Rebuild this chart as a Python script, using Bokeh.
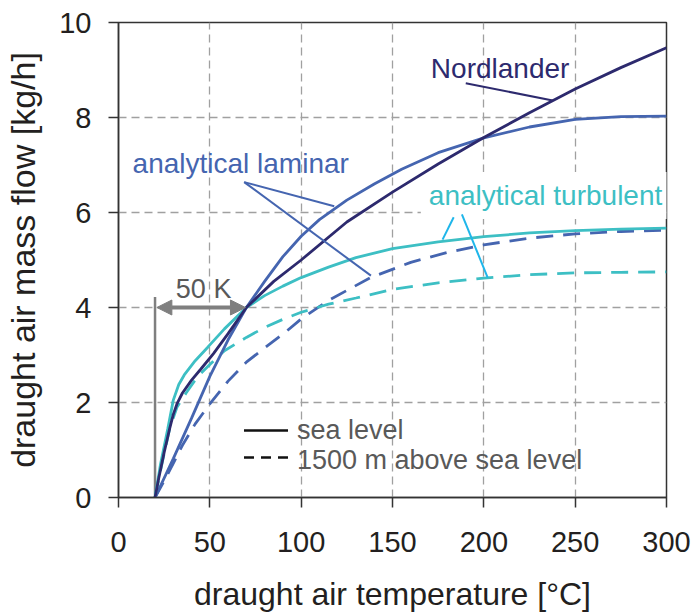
from bokeh.plotting import figure
from bokeh.models import Range1d, FixedTicker, Label, Arrow, NormalHead
from bokeh.embed import file_html
from bokeh.resources import INLINE

# draught air temperature [°C] / mass flow [kg/h], one pair of lists per model
nord_t = [20, 22, 25, 28, 30, 32, 35, 40, 45, 52, 60, 70, 85, 100, 125, 150, 175, 200, 225, 250, 275, 300]
nord_m = [0, 0.4, 0.95, 1.45, 1.75, 1.97, 2.2, 2.47, 2.7, 3.03, 3.45, 4.0, 4.55, 5.0, 5.8, 6.43, 7.02, 7.58, 8.1, 8.6, 9.05, 9.47]

lam_t = [20, 30, 40, 50, 60, 70, 80, 90, 100, 110, 125, 140, 155, 175, 200, 225, 250, 275, 300]
lam_m = [0, 0.82, 1.67, 2.55, 3.32, 4.0, 4.55, 5.07, 5.5, 5.85, 6.26, 6.6, 6.91, 7.26, 7.57, 7.8, 7.96, 8.02, 8.03]

lam_hi_t = [20, 25, 30, 35, 42, 50, 60, 70, 80, 92, 100, 115, 138, 160, 180, 200, 225, 250, 275, 300]
lam_hi_m = [0, 0.35, 0.72, 1.1, 1.55, 1.97, 2.45, 2.85, 3.15, 3.5, 3.76, 4.15, 4.63, 4.95, 5.16, 5.32, 5.46, 5.55, 5.6, 5.63]

turb_t = [20, 23, 27, 30, 33, 36, 42, 49, 58, 70, 80, 90, 100, 115, 130, 150, 175, 200, 225, 250, 275, 300]
turb_m = [0, 0.7, 1.45, 2.05, 2.38, 2.58, 2.88, 3.17, 3.55, 4.0, 4.25, 4.45, 4.63, 4.85, 5.05, 5.24, 5.38, 5.49, 5.57, 5.62, 5.65, 5.67]

turb_hi_t = [20, 24, 28, 32, 37, 43, 50, 58, 70, 80, 90, 100, 115, 130, 150, 175, 200, 225, 250, 275, 300]
turb_hi_m = [0, 0.75, 1.45, 1.9, 2.2, 2.53, 2.8, 3.09, 3.37, 3.58, 3.75, 3.9, 4.07, 4.2, 4.38, 4.52, 4.62, 4.69, 4.73, 4.74, 4.75]

x_ticks = [0, 50, 100, 150, 200, 250, 300]
y_ticks = [0, 2, 4, 6, 8, 10]

NAVY = "#2D2A6E"
BLUE = "#4565B0"
CYAN = "#3DBFC4"
CYAN_LEAD = "#1FB6EA"
GRAY = "#7F7F7F"
TXT = "#231F20"
FONT = "Liberation Sans"

p = figure(frame_width=548, frame_height=475, output_backend="svg",
           toolbar_location=None, x_range=Range1d(0, 300), y_range=Range1d(0, 10),
           min_border_left=118, min_border_right=28, min_border_top=22, min_border_bottom=117)
p.background_fill_color = "white"
p.border_fill_color = "white"
p.outline_line_color = "#333333"
p.outline_line_width = 1.5

for ax, ticks in ((p.xaxis, x_ticks), (p.yaxis, y_ticks)):
    ax.ticker = FixedTicker(ticks=ticks)
    ax.minor_tick_line_color = None
    ax.major_tick_in = 0
    ax.major_tick_out = 10
    ax.axis_line_color = "#333333"
    ax.axis_line_width = 1.5
    ax.major_tick_line_color = "#333333"
    ax.major_tick_line_width = 1.5
    ax.major_label_text_font = FONT
    ax.major_label_text_font_size = "29px"
    ax.major_label_text_color = TXT
    ax.axis_label_text_font = FONT
    ax.axis_label_text_font_style = "normal"
    ax.axis_label_text_color = TXT

p.xaxis.axis_label = "draught air temperature [°C]"
p.yaxis.axis_label = "draught air mass flow [kg/h]"
p.xaxis.axis_label_text_font_size = "32px"
p.yaxis.axis_label_text_font_size = "34px"
p.xaxis.major_label_standoff = 24
p.yaxis.major_label_standoff = 17
p.xaxis.axis_label_standoff = 21
p.yaxis.axis_label_standoff = 14

p.xgrid.ticker = FixedTicker(ticks=x_ticks)
p.ygrid.ticker = FixedTicker(ticks=y_ticks)
for g in (p.xgrid, p.ygrid):
    g.grid_line_color = "#A0A0A0"
    g.grid_line_dash = "8 5"
    g.grid_line_width = 1.3

# white-backed name label: sits above the grid but beneath the curves
p.add_layout(Label(x=165.5, y=6.36, text="analytical turbulent", text_font=FONT,
                   text_font_size="28px", text_color=CYAN, text_baseline="alphabetic",
                   background_fill_color="white", padding=8, level="underlay"))

# 50 K reference: vertical marker at ambient temperature and double arrow
p.segment(x0=[20], y0=[0], x1=[20], y1=[4.22], line_color=GRAY, line_width=2.5)
p.add_layout(Arrow(start=NormalHead(size=15, fill_color=GRAY, line_color=GRAY),
                   end=NormalHead(size=15, fill_color=GRAY, line_color=GRAY),
                   x_start=21, y_start=4, x_end=69.5, y_end=4,
                   line_color=GRAY, line_width=4))
p.add_layout(Label(x=31.4, y=4.4, text="50 K", text_font=FONT, text_font_size="27px",
                   text_color="#595959", text_baseline="alphabetic"))

# curves: 1500 m above sea level (dashed) then sea level (solid)
DASH = "17 10"
p.line(lam_hi_t, lam_hi_m, line_color=BLUE, line_width=2.8, line_dash=DASH)
p.line(turb_hi_t, turb_hi_m, line_color=CYAN, line_width=2.8, line_dash=DASH)
p.line(lam_t, lam_m, line_color=BLUE, line_width=2.8)
p.line(turb_t, turb_m, line_color=CYAN, line_width=2.8)
p.line(nord_t, nord_m, line_color=NAVY, line_width=2.8)

# leader lines for the curve names
p.segment(x0=[190.1], y0=[8.72], x1=[237.7], y1=[8.36], line_color=NAVY, line_width=2)
p.segment(x0=[68.8, 68.8], y0=[6.64, 6.64], x1=[118.1, 138.2], y1=[6.13, 4.67],
          line_color=BLUE, line_width=2)
p.segment(x0=[183.5, 188.0], y0=[5.9, 5.96], x1=[177.4, 202.1], y1=[5.43, 4.63],
          line_color=CYAN_LEAD, line_width=2)

p.add_layout(Label(x=171, y=9.03, text="Nordlander", text_font=FONT, text_font_size="28px",
                   text_color=NAVY, text_baseline="alphabetic"))
p.add_layout(Label(x=7.7, y=7.03, text="analytical laminar", text_font=FONT,
                   text_font_size="28px", text_color=BLUE, text_baseline="alphabetic"))

# legend for line style
p.segment(x0=[68.7], y0=[1.41], x1=[92.8], y1=[1.41], line_color="#111111", line_width=2.5)
p.segment(x0=[68.7], y0=[0.84], x1=[92.8], y1=[0.84], line_color="#111111", line_width=2.5,
          line_dash="10 7")
p.add_layout(Label(x=97.7, y=1.43, text="sea level", text_font=FONT, text_font_size="27px",
                   text_color="#595959", text_baseline="alphabetic"))
p.add_layout(Label(x=97.7, y=0.8, text="1500 m above sea level", text_font=FONT,
                   text_font_size="27px", text_color="#595959", text_baseline="alphabetic"))

open("out.html", "w").write(file_html(p, INLINE))
